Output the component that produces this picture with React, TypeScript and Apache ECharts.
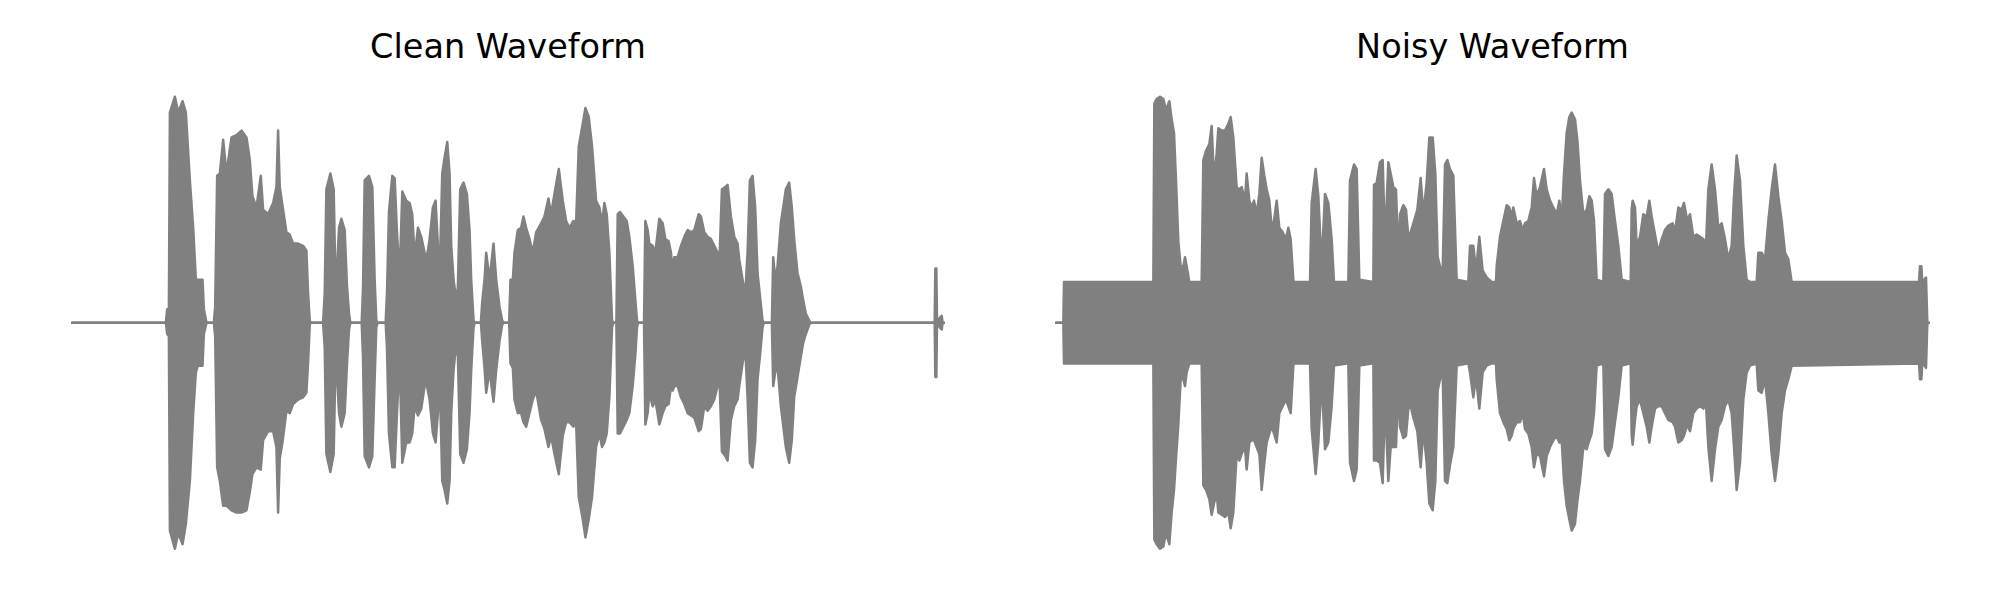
import React, { useEffect, useRef } from "react";
import * as echarts from "echarts";

// Envelope of each waveform: [time (ms), peak, trough]
const cleanEnvelope: [number, number, number][] = [
  [0, 0, 0], [279, 0, 0], [283, 0.06, -0.05], [288, 0.06, -0.06], [291, 0.93, -0.92],
  [306, 1.0, -1.0], [316, 0.93, -0.93], [329, 0.98, -0.98], [339, 0.93, -0.89],
  [351, 0.63, -0.7], [361, 0.42, -0.4], [369, 0.19, -0.22], [375, 0.19, -0.19],
  [389, 0.19, -0.19], [393, 0.06, -0.05], [401, 0, 0], [423, 0, 0], [427, 0.07, -0.06],
  [433, 0.65, -0.64], [441, 0.66, -0.7], [451, 0.81, -0.81], [461, 0.66, -0.81],
  [476, 0.82, -0.83], [491, 0.83, -0.84], [506, 0.85, -0.84], [521, 0.82, -0.83],
  [531, 0.72, -0.75], [539, 0.56, -0.67], [551, 0.51, -0.64], [564, 0.65, -0.65],
  [571, 0.5, -0.52], [586, 0.48, -0.48], [601, 0.53, -0.48], [611, 0.6, -0.55],
  [616, 0.85, -0.84], [621, 0.6, -0.6], [629, 0.52, -0.53], [641, 0.4, -0.39],
  [651, 0.39, -0.4], [661, 0.35, -0.36], [676, 0.35, -0.34], [691, 0.34, -0.33],
  [701, 0.32, -0.31], [706, 0.13, -0.18], [711, 0.01, -0.01], [713, 0, 0], [751, 0, 0],
  [756, 0.13, -0.11], [761, 0.59, -0.58], [773, 0.66, -0.66], [783, 0.59, -0.58],
  [789, 0.12, -0.12], [799, 0.42, -0.4], [806, 0.46, -0.46], [816, 0.41, -0.4],
  [823, 0.16, -0.18], [829, 0.04, -0.03], [833, 0, 0], [867, 0, 0], [871, 0.15, -0.15],
  [876, 0.63, -0.59], [889, 0.65, -0.64], [899, 0.6, -0.59], [906, 0.19, -0.25],
  [911, 0.01, -0.02], [915, 0, 0], [939, 0, 0], [943, 0.13, -0.11], [949, 0.49, -0.49],
  [959, 0.65, -0.64], [966, 0.64, -0.64], [973, 0.4, -0.4], [981, 0.2, -0.16],
  [989, 0.58, -0.62], [1001, 0.54, -0.53], [1011, 0.53, -0.53], [1019, 0.48, -0.49],
  [1026, 0.29, -0.37], [1036, 0.42, -0.41], [1046, 0.38, -0.38], [1056, 0.31, -0.28],
  [1063, 0.29, -0.28], [1071, 0.37, -0.34], [1081, 0.51, -0.49], [1089, 0.54, -0.53],
  [1096, 0.34, -0.4], [1101, 0.19, -0.21], [1109, 0.66, -0.7], [1116, 0.73, -0.74],
  [1124, 0.8, -0.8], [1131, 0.66, -0.7], [1136, 0.34, -0.4], [1143, 0.19, -0.21],
  [1151, 0.1, -0.09], [1156, 0.16, -0.15], [1163, 0.59, -0.58], [1173, 0.62, -0.62],
  [1183, 0.57, -0.56], [1191, 0.41, -0.4], [1196, 0.19, -0.21], [1203, 0.01, -0.02],
  [1207, 0, 0], [1225, 0, 0], [1229, 0.09, -0.08], [1236, 0.19, -0.2], [1241, 0.31, -0.31],
  [1251, 0.19, -0.21], [1263, 0.35, -0.35], [1271, 0.19, -0.21], [1281, 0.07, -0.08],
  [1289, 0.01, -0.01], [1293, 0, 0], [1310, 0, 0], [1314, 0.19, -0.18], [1321, 0.19, -0.2],
  [1326, 0.31, -0.34], [1336, 0.41, -0.4], [1346, 0.42, -0.4], [1353, 0.47, -0.44],
  [1361, 0.42, -0.46], [1371, 0.37, -0.4], [1381, 0.31, -0.34], [1391, 0.4, -0.3],
  [1406, 0.44, -0.43], [1416, 0.47, -0.47], [1428, 0.55, -0.55], [1436, 0.48, -0.5],
  [1446, 0.57, -0.58], [1459, 0.68, -0.67], [1471, 0.54, -0.5], [1481, 0.45, -0.44],
  [1491, 0.42, -0.44], [1503, 0.45, -0.46], [1511, 0.44, -0.44], [1519, 0.78, -0.77],
  [1531, 0.88, -0.87], [1539, 0.95, -0.95], [1549, 0.91, -0.87], [1559, 0.78, -0.77],
  [1571, 0.54, -0.55], [1581, 0.51, -0.49], [1589, 0.44, -0.55], [1596, 0.53, -0.53],
  [1603, 0.48, -0.49], [1611, 0.31, -0.33], [1619, 0.01, -0.02], [1622, 0, 0], [1632, 0, 0],
  [1636, 0.48, -0.49], [1643, 0.49, -0.49], [1653, 0.47, -0.46], [1663, 0.45, -0.43],
  [1671, 0.38, -0.4], [1681, 0.25, -0.28], [1689, 0.1, -0.14], [1694, 0.01, -0.02],
  [1697, 0, 0], [1715, 0, 0], [1719, 0.45, -0.45], [1726, 0.41, -0.4], [1731, 0.35, -0.31],
  [1741, 0.34, -0.37], [1749, 0.31, -0.34], [1761, 0.46, -0.45], [1771, 0.44, -0.4],
  [1779, 0.37, -0.37], [1789, 0.36, -0.36], [1796, 0.31, -0.28], [1801, 0.22, -0.3],
  [1806, 0.29, -0.28], [1816, 0.29, -0.28], [1826, 0.34, -0.33], [1836, 0.38, -0.36],
  [1846, 0.41, -0.4], [1856, 0.4, -0.41], [1866, 0.41, -0.42], [1879, 0.48, -0.48],
  [1886, 0.47, -0.47], [1896, 0.4, -0.37], [1906, 0.38, -0.39], [1916, 0.37, -0.37],
  [1926, 0.34, -0.34], [1936, 0.31, -0.28], [1941, 0.25, -0.22], [1949, 0.59, -0.57],
  [1959, 0.6, -0.59], [1966, 0.61, -0.61], [1976, 0.47, -0.43], [1986, 0.38, -0.37],
  [1996, 0.35, -0.34], [2001, 0.28, -0.28], [2011, 0.19, -0.18], [2019, 0.12, -0.11],
  [2026, 0.31, -0.33], [2033, 0.63, -0.62], [2041, 0.65, -0.64], [2049, 0.51, -0.52],
  [2056, 0.22, -0.25], [2063, 0.12, -0.15], [2071, 0.01, -0.02], [2075, 0, 0], [2099, 0, 0],
  [2103, 0.29, -0.28], [2109, 0.19, -0.22], [2116, 0.25, -0.19], [2126, 0.44, -0.37],
  [2141, 0.59, -0.55], [2151, 0.62, -0.62], [2159, 0.51, -0.52], [2166, 0.37, -0.33],
  [2176, 0.22, -0.24], [2186, 0.16, -0.15], [2193, 0.1, -0.09], [2201, 0.04, -0.05],
  [2211, 0.01, -0.01], [2215, 0, 0], [2588, 0, 0], [2590, 0.24, -0.24], [2593, 0.24, -0.24],
  [2595, 0, 0], [2603, 0.02, -0.02], [2609, 0.03, -0.03], [2612, 0, 0],
];

const noisyEnvelope: [number, number, number][] = [
  [1, 0, 0], [19, 0, 0], [21, 0.18, -0.18], [289, 0.18, -0.18], [292, 0.97, -0.96],
  [299, 0.99, -0.98], [309, 1.0, -1.0], [319, 0.99, -0.99], [327, 0.94, -0.93],
  [337, 0.98, -0.98], [344, 0.9, -0.84], [351, 0.84, -0.74], [357, 0.63, -0.6],
  [364, 0.36, -0.45], [371, 0.25, -0.25], [379, 0.25, -0.25], [384, 0.29, -0.28],
  [389, 0.25, -0.22], [397, 0.18, -0.18], [434, 0.18, -0.18], [439, 0.72, -0.72],
  [447, 0.76, -0.74], [457, 0.79, -0.78], [464, 0.87, -0.85], [471, 0.63, -0.8],
  [479, 0.75, -0.75], [484, 0.86, -0.84], [494, 0.85, -0.85], [504, 0.85, -0.86],
  [514, 0.88, -0.84], [521, 0.91, -0.91], [529, 0.82, -0.84], [539, 0.6, -0.58],
  [547, 0.59, -0.61], [554, 0.6, -0.58], [564, 0.54, -0.55], [569, 0.66, -0.65],
  [577, 0.54, -0.53], [584, 0.51, -0.52], [591, 0.54, -0.52], [599, 0.48, -0.55],
  [607, 0.57, -0.58], [614, 0.73, -0.74], [622, 0.65, -0.62], [629, 0.59, -0.53],
  [637, 0.54, -0.49], [644, 0.42, -0.46], [651, 0.45, -0.49], [659, 0.54, -0.53],
  [667, 0.42, -0.4], [677, 0.4, -0.37], [687, 0.37, -0.34], [694, 0.42, -0.37],
  [701, 0.37, -0.4], [709, 0.19, -0.19], [711, 0.18, -0.18], [759, 0.18, -0.18],
  [764, 0.53, -0.47], [776, 0.68, -0.67], [784, 0.56, -0.53], [794, 0.25, -0.25],
  [804, 0.57, -0.56], [814, 0.53, -0.53], [824, 0.37, -0.37], [831, 0.18, -0.19],
  [874, 0.18, -0.18], [879, 0.63, -0.62], [891, 0.7, -0.7], [899, 0.68, -0.65],
  [907, 0.19, -0.19], [949, 0.18, -0.18], [951, 0.61, -0.61], [959, 0.62, -0.61],
  [969, 0.71, -0.62], [977, 0.72, -0.71], [984, 0.35, -0.34], [994, 0.71, -0.7],
  [1001, 0.66, -0.55], [1009, 0.6, -0.55], [1017, 0.59, -0.55], [1024, 0.28, -0.28],
  [1029, 0.48, -0.46], [1039, 0.52, -0.51], [1047, 0.5, -0.5], [1054, 0.38, -0.38],
  [1061, 0.4, -0.37], [1069, 0.44, -0.42], [1081, 0.5, -0.48], [1091, 0.64, -0.64],
  [1099, 0.48, -0.47], [1109, 0.62, -0.62], [1117, 0.82, -0.8], [1127, 0.82, -0.83],
  [1135, 0.66, -0.7], [1142, 0.29, -0.3], [1149, 0.25, -0.25], [1157, 0.22, -0.22],
  [1164, 0.7, -0.7], [1171, 0.72, -0.71], [1179, 0.68, -0.63], [1189, 0.65, -0.55],
  [1199, 0.19, -0.19], [1234, 0.18, -0.18], [1239, 0.34, -0.22], [1249, 0.34, -0.33],
  [1257, 0.23, -0.24], [1267, 0.38, -0.38], [1277, 0.23, -0.22], [1289, 0.2, -0.19],
  [1304, 0.18, -0.18], [1317, 0.18, -0.18], [1319, 0.25, -0.25], [1329, 0.38, -0.4],
  [1339, 0.45, -0.44], [1349, 0.52, -0.47], [1357, 0.51, -0.52], [1364, 0.47, -0.5],
  [1369, 0.51, -0.47], [1379, 0.44, -0.44], [1389, 0.45, -0.44], [1397, 0.41, -0.4],
  [1404, 0.44, -0.47], [1414, 0.45, -0.49], [1424, 0.51, -0.55], [1431, 0.64, -0.64],
  [1439, 0.56, -0.58], [1449, 0.6, -0.59], [1461, 0.68, -0.68], [1469, 0.59, -0.59],
  [1479, 0.54, -0.55], [1489, 0.51, -0.52], [1499, 0.48, -0.5], [1507, 0.54, -0.53],
  [1514, 0.45, -0.52], [1521, 0.66, -0.7], [1529, 0.84, -0.81], [1537, 0.91, -0.87],
  [1544, 0.93, -0.92], [1554, 0.9, -0.89], [1561, 0.81, -0.79], [1569, 0.63, -0.7],
  [1579, 0.48, -0.55], [1589, 0.5, -0.56], [1597, 0.56, -0.52], [1604, 0.54, -0.49],
  [1611, 0.45, -0.4], [1619, 0.19, -0.19], [1639, 0.18, -0.18], [1644, 0.57, -0.56],
  [1654, 0.59, -0.59], [1664, 0.57, -0.55], [1674, 0.45, -0.44], [1684, 0.34, -0.33],
  [1694, 0.19, -0.19], [1721, 0.18, -0.18], [1724, 0.5, -0.5], [1727, 0.54, -0.54],
  [1734, 0.51, -0.43], [1739, 0.34, -0.37], [1749, 0.38, -0.34], [1759, 0.48, -0.4],
  [1769, 0.47, -0.46], [1777, 0.54, -0.53], [1784, 0.47, -0.46], [1794, 0.39, -0.38],
  [1804, 0.31, -0.37], [1814, 0.37, -0.37], [1824, 0.41, -0.4], [1834, 0.43, -0.43],
  [1847, 0.44, -0.44], [1854, 0.4, -0.46], [1864, 0.51, -0.53], [1874, 0.5, -0.52],
  [1881, 0.53, -0.5], [1891, 0.45, -0.45], [1899, 0.48, -0.48], [1909, 0.38, -0.4],
  [1919, 0.39, -0.38], [1929, 0.38, -0.37], [1939, 0.37, -0.38], [1947, 0.34, -0.36],
  [1954, 0.59, -0.55], [1964, 0.7, -0.7], [1974, 0.59, -0.56], [1984, 0.42, -0.46],
  [1994, 0.44, -0.43], [2004, 0.37, -0.37], [2014, 0.28, -0.34], [2024, 0.34, -0.4],
  [2031, 0.56, -0.55], [2039, 0.74, -0.74], [2049, 0.63, -0.62], [2059, 0.34, -0.34],
  [2069, 0.19, -0.22], [2079, 0.18, -0.19], [2099, 0.18, -0.18], [2104, 0.31, -0.3],
  [2114, 0.31, -0.31], [2124, 0.28, -0.25], [2134, 0.45, -0.4], [2144, 0.59, -0.58],
  [2154, 0.7, -0.7], [2164, 0.56, -0.58], [2174, 0.45, -0.4], [2184, 0.31, -0.3],
  [2194, 0.28, -0.25], [2204, 0.18, -0.19], [2586, 0.18, -0.18], [2589, 0.25, -0.25],
  [2593, 0.25, -0.25], [2596, 0.18, -0.18], [2603, 0.19, -0.19], [2607, 0.2, -0.2],
  [2611, 0, 0],
];

const titles = ["Clean Waveform", "Noisy Waveform"];

const GRAY = "#808080";
const T_MIN = 0;
const T_MAX = 2613;

// Peak series fills gray down to the bottom of the plot; the trough series then
// paints white below the trough (reaching past both ends of the signal, where the
// grid clips it), leaving a seamless gray band between trough and peak.
function envSeries(env: [number, number, number][], idx: number) {
  const common = {
    type: "line" as const,
    xAxisIndex: idx,
    yAxisIndex: idx,
    showSymbol: false,
    symbol: "none",
    smooth: false,
    silent: true,
    lineStyle: { color: GRAY, width: 2.5, join: "round", cap: "round" },
  };
  const trough = env.map((r) => [r[0], r[2]]);
  return [
    {
      ...common,
      name: titles[idx] + " peak",
      areaStyle: { color: GRAY, opacity: 1, origin: "start" },
      data: env.map((r) => [r[0], r[1]]),
    },
    {
      ...common,
      name: titles[idx] + " trough",
      areaStyle: { color: "#ffffff", opacity: 1, origin: "start" },
      data: [[T_MIN - 60, 0], ...trough, [T_MAX + 60, 0]],
    },
  ];
}

export default function App() {
  const ref = useRef<HTMLDivElement>(null);
  useEffect(() => {
    if (!ref.current) return;
    const chart = echarts.init(ref.current, undefined, { renderer: "svg" });
    const grids = [
      { left: 73, top: 85.4, width: 870, height: 474.6 },
      { left: 1057, top: 85.4, width: 871, height: 474.6 },
    ];
    chart.setOption({
      animation: false,
      backgroundColor: "#ffffff",
      grid: grids,
      xAxis: grids.map((_, i) => ({ type: "value", gridIndex: i, min: T_MIN, max: T_MAX, show: false })),
      yAxis: grids.map((_, i) => ({ type: "value", gridIndex: i, min: -1.05, max: 1.05, show: false })),
      graphic: titles.map((t, i) => ({
        type: "text",
        x: grids[i].left + grids[i].width / 2,
        y: 46,
        style: {
          text: t,
          fill: "#000000",
          font: "33.5px 'DejaVu Sans'",
          align: "center",
          verticalAlign: "middle",
          textAlign: "center",
          textVerticalAlign: "middle",
        },
      })),
      series: [...envSeries(cleanEnvelope, 0), ...envSeries(noisyEnvelope, 1)],
    });
    return () => chart.dispose();
  }, []);
  return (
    <div
      ref={ref}
      style={{ position: "absolute", left: 0, top: 0, width: 2000, height: 600 }}
    />
  );
}
